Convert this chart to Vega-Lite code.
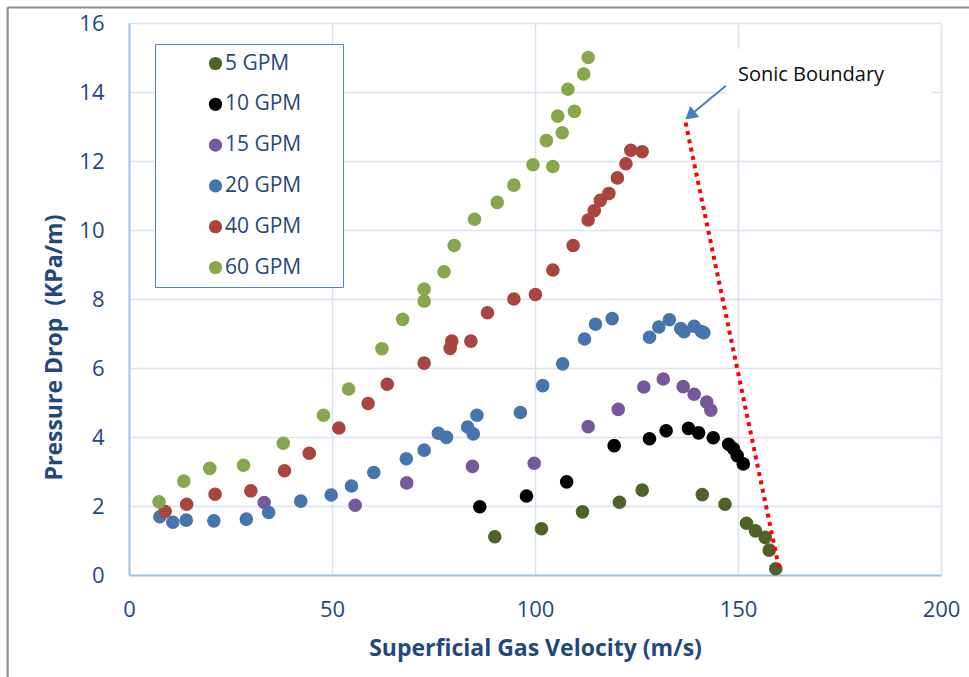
{
  "$schema": "https://vega.github.io/schema/vega-lite/v6.json",
  "width": 812,
  "height": 552,
  "autosize": {"type": "none"},
  "padding": {"left": 129, "top": 23, "right": 28, "bottom": 102},
  "background": "white",
  "datasets": {
    "points": [
      {"series": "5 GPM", "x": 90.1, "y": 1.11},
      {"series": "5 GPM", "x": 101.6, "y": 1.34},
      {"series": "5 GPM", "x": 111.7, "y": 1.83},
      {"series": "5 GPM", "x": 120.8, "y": 2.11},
      {"series": "5 GPM", "x": 126.4, "y": 2.46},
      {"series": "5 GPM", "x": 141.2, "y": 2.33},
      {"series": "5 GPM", "x": 146.8, "y": 2.05},
      {"series": "5 GPM", "x": 152.1, "y": 1.5},
      {"series": "5 GPM", "x": 154.3, "y": 1.28},
      {"series": "5 GPM", "x": 156.7, "y": 1.09},
      {"series": "5 GPM", "x": 157.7, "y": 0.72},
      {"series": "5 GPM", "x": 159.3, "y": 0.18},
      {"series": "10 GPM", "x": 86.4, "y": 1.98},
      {"series": "10 GPM", "x": 97.9, "y": 2.29},
      {"series": "10 GPM", "x": 107.8, "y": 2.7},
      {"series": "10 GPM", "x": 119.5, "y": 3.75},
      {"series": "10 GPM", "x": 128.2, "y": 3.95},
      {"series": "10 GPM", "x": 132.3, "y": 4.18},
      {"series": "10 GPM", "x": 137.8, "y": 4.25},
      {"series": "10 GPM", "x": 140.3, "y": 4.12},
      {"series": "10 GPM", "x": 143.9, "y": 3.98},
      {"series": "10 GPM", "x": 147.7, "y": 3.79},
      {"series": "10 GPM", "x": 148.9, "y": 3.66},
      {"series": "10 GPM", "x": 149.8, "y": 3.46},
      {"series": "10 GPM", "x": 151.3, "y": 3.22},
      {"series": "15 GPM", "x": 33.3, "y": 2.1},
      {"series": "15 GPM", "x": 55.7, "y": 2.02},
      {"series": "15 GPM", "x": 68.4, "y": 2.67},
      {"series": "15 GPM", "x": 84.6, "y": 3.15},
      {"series": "15 GPM", "x": 99.8, "y": 3.24},
      {"series": "15 GPM", "x": 113.1, "y": 4.3},
      {"series": "15 GPM", "x": 120.5, "y": 4.8},
      {"series": "15 GPM", "x": 126.8, "y": 5.45},
      {"series": "15 GPM", "x": 131.6, "y": 5.68},
      {"series": "15 GPM", "x": 136.5, "y": 5.46},
      {"series": "15 GPM", "x": 139.2, "y": 5.24},
      {"series": "15 GPM", "x": 142.3, "y": 5.01},
      {"series": "15 GPM", "x": 143.3, "y": 4.78},
      {"series": "20 GPM", "x": 7.6, "y": 1.69},
      {"series": "20 GPM", "x": 10.8, "y": 1.53},
      {"series": "20 GPM", "x": 14.1, "y": 1.59},
      {"series": "20 GPM", "x": 20.9, "y": 1.57},
      {"series": "20 GPM", "x": 28.9, "y": 1.62},
      {"series": "20 GPM", "x": 34.4, "y": 1.81},
      {"series": "20 GPM", "x": 42.3, "y": 2.14},
      {"series": "20 GPM", "x": 49.8, "y": 2.32},
      {"series": "20 GPM", "x": 54.8, "y": 2.58},
      {"series": "20 GPM", "x": 60.3, "y": 2.97},
      {"series": "20 GPM", "x": 68.3, "y": 3.37},
      {"series": "20 GPM", "x": 72.7, "y": 3.62},
      {"series": "20 GPM", "x": 76.2, "y": 4.11},
      {"series": "20 GPM", "x": 78.2, "y": 3.99},
      {"series": "20 GPM", "x": 83.4, "y": 4.29},
      {"series": "20 GPM", "x": 84.8, "y": 4.09},
      {"series": "20 GPM", "x": 85.7, "y": 4.63},
      {"series": "20 GPM", "x": 96.4, "y": 4.71},
      {"series": "20 GPM", "x": 101.9, "y": 5.49},
      {"series": "20 GPM", "x": 106.8, "y": 6.12},
      {"series": "20 GPM", "x": 112.2, "y": 6.84},
      {"series": "20 GPM", "x": 114.9, "y": 7.27},
      {"series": "20 GPM", "x": 119.0, "y": 7.43},
      {"series": "20 GPM", "x": 128.2, "y": 6.89},
      {"series": "20 GPM", "x": 130.5, "y": 7.19},
      {"series": "20 GPM", "x": 133.1, "y": 7.4},
      {"series": "20 GPM", "x": 135.9, "y": 7.14},
      {"series": "20 GPM", "x": 136.7, "y": 7.05},
      {"series": "20 GPM", "x": 139.2, "y": 7.21},
      {"series": "20 GPM", "x": 141.0, "y": 7.06},
      {"series": "20 GPM", "x": 141.6, "y": 7.02},
      {"series": "40 GPM", "x": 8.9, "y": 1.84},
      {"series": "40 GPM", "x": 14.2, "y": 2.05},
      {"series": "40 GPM", "x": 21.2, "y": 2.34},
      {"series": "40 GPM", "x": 30.0, "y": 2.44},
      {"series": "40 GPM", "x": 38.3, "y": 3.02},
      {"series": "40 GPM", "x": 44.4, "y": 3.53},
      {"series": "40 GPM", "x": 51.7, "y": 4.26},
      {"series": "40 GPM", "x": 58.9, "y": 4.97},
      {"series": "40 GPM", "x": 63.6, "y": 5.53},
      {"series": "40 GPM", "x": 72.7, "y": 6.14},
      {"series": "40 GPM", "x": 79.1, "y": 6.57},
      {"series": "40 GPM", "x": 79.5, "y": 6.78},
      {"series": "40 GPM", "x": 84.2, "y": 6.78},
      {"series": "40 GPM", "x": 88.3, "y": 7.6},
      {"series": "40 GPM", "x": 94.8, "y": 8.0},
      {"series": "40 GPM", "x": 100.1, "y": 8.13},
      {"series": "40 GPM", "x": 104.4, "y": 8.84},
      {"series": "40 GPM", "x": 109.4, "y": 9.55},
      {"series": "40 GPM", "x": 113.1, "y": 10.29},
      {"series": "40 GPM", "x": 114.6, "y": 10.56},
      {"series": "40 GPM", "x": 116.1, "y": 10.86},
      {"series": "40 GPM", "x": 118.2, "y": 11.06},
      {"series": "40 GPM", "x": 120.3, "y": 11.51},
      {"series": "40 GPM", "x": 122.4, "y": 11.92},
      {"series": "40 GPM", "x": 123.6, "y": 12.31},
      {"series": "40 GPM", "x": 126.4, "y": 12.27},
      {"series": "60 GPM", "x": 7.4, "y": 2.12},
      {"series": "60 GPM", "x": 13.5, "y": 2.72},
      {"series": "60 GPM", "x": 19.9, "y": 3.09},
      {"series": "60 GPM", "x": 28.2, "y": 3.18},
      {"series": "60 GPM", "x": 38.0, "y": 3.82},
      {"series": "60 GPM", "x": 47.9, "y": 4.63},
      {"series": "60 GPM", "x": 54.1, "y": 5.39},
      {"series": "60 GPM", "x": 62.3, "y": 6.56},
      {"series": "60 GPM", "x": 67.4, "y": 7.41},
      {"series": "60 GPM", "x": 72.7, "y": 7.94},
      {"series": "60 GPM", "x": 72.7, "y": 8.29},
      {"series": "60 GPM", "x": 77.6, "y": 8.79},
      {"series": "60 GPM", "x": 80.1, "y": 9.55},
      {"series": "60 GPM", "x": 85.1, "y": 10.31},
      {"series": "60 GPM", "x": 90.7, "y": 10.8},
      {"series": "60 GPM", "x": 94.8, "y": 11.3},
      {"series": "60 GPM", "x": 99.5, "y": 11.89},
      {"series": "60 GPM", "x": 104.4, "y": 11.84},
      {"series": "60 GPM", "x": 102.8, "y": 12.59},
      {"series": "60 GPM", "x": 106.7, "y": 12.82},
      {"series": "60 GPM", "x": 105.6, "y": 13.3},
      {"series": "60 GPM", "x": 109.7, "y": 13.44},
      {"series": "60 GPM", "x": 108.1, "y": 14.08},
      {"series": "60 GPM", "x": 112.0, "y": 14.52},
      {"series": "60 GPM", "x": 113.1, "y": 15.0}
    ],
    "frame": [
      {"x": -29.9, "y": 16.45, "x2": -29.9, "y2": -3.3},
      {"x": -29.9, "y": 16.45, "x2": 210, "y2": 16.45}
    ],
    "box": [{"x": 147.3, "x2": 197.8, "y": 13.5, "y2": 15.25}],
    "boundary": [{"x": 137.1, "y": 13.11, "x2": 160.2, "y2": 0.15}],
    "arrow": [{"x": 147.0, "y": 14.18, "x2": 138.4, "y2": 13.34}],
    "head": [{"x": 138.2, "y": 13.32}],
    "note": [{"x": 150.0, "y": 14.32, "label": "Sonic Boundary"}]
  },
  "layer": [
    {
      "data": {"name": "frame"},
      "mark": {"type": "rule", "color": "#8c8c8c", "strokeWidth": 2.2},
      "encoding": {
        "x": {"field": "x", "type": "quantitative", "scale": {"domain": [0, 200], "nice": false, "zero": false}, "title": "Superficial Gas Velocity (m/s)"},
        "y": {"field": "y", "type": "quantitative", "scale": {"domain": [0, 16], "nice": false}, "title": "Pressure Drop\u00a0 (KPa/m)"},
        "x2": {"field": "x2"},
        "y2": {"field": "y2"}
      }
    },
    {
      "data": {"name": "box"},
      "mark": {"type": "rect", "color": "white"},
      "encoding": {
        "x": {"field": "x", "type": "quantitative", "scale": {"domain": [0, 200], "nice": false, "zero": false}, "title": "Superficial Gas Velocity (m/s)"},
        "y": {"field": "y", "type": "quantitative", "scale": {"domain": [0, 16], "nice": false}, "title": "Pressure Drop\u00a0 (KPa/m)"},
        "x2": {"field": "x2"},
        "y2": {"field": "y2"}
      }
    },
    {
      "data": {"name": "points"},
      "mark": {"type": "point", "filled": true, "shape": "circle", "size": 185, "opacity": 1, "strokeWidth": 0},
      "encoding": {
        "x": {"field": "x", "type": "quantitative", "scale": {"domain": [0, 200], "nice": false, "zero": false}, "axis": {"values": [0, 50, 100, 150, 200]}, "title": "Superficial Gas Velocity (m/s)"},
        "y": {"field": "y", "type": "quantitative", "scale": {"domain": [0, 16], "nice": false}, "axis": {"values": [0, 2, 4, 6, 8, 10, 12, 14, 16]}, "title": "Pressure Drop\u00a0 (KPa/m)"},
        "color": {
          "field": "series",
          "type": "nominal",
          "scale": {
            "domain": ["5 GPM", "10 GPM", "15 GPM", "20 GPM", "40 GPM", "60 GPM"],
            "range": ["#4f6228", "#000000", "#77599b", "#4675ab", "#a9443f", "#88a64b"]
          },
          "legend": {
            "orient": "none",
            "legendX": 26,
            "legendY": 21,
            "title": ".",
            "titleOrient": "right",
            "titleColor": "white",
            "titleFontSize": 10,
            "titlePadding": 30,
            "padding": 9,
            "strokeColor": "#4f81bd",
            "fillColor": "white",
            "symbolType": "circle",
            "symbolSize": 175,
            "symbolStrokeWidth": 0,
            "symbolOpacity": 1,
            "symbolOffset": 41,
            "labelOffset": -1,
            "labelFont": "Open Sans",
            "labelFontSize": 21,
            "labelColor": "#1f497d",
            "rowPadding": 18.8,
            "encoding": {"legend": {"update": {"strokeWidth": {"value": 2}}}}
          }
        }
      }
    },
    {
      "data": {"name": "boundary"},
      "mark": {"type": "rule", "color": "#ff0000", "strokeWidth": 4, "strokeDash": [4, 4.5], "strokeCap": "butt"},
      "encoding": {
        "x": {"field": "x", "type": "quantitative", "scale": {"domain": [0, 200], "nice": false, "zero": false}, "title": "Superficial Gas Velocity (m/s)"},
        "y": {"field": "y", "type": "quantitative", "scale": {"domain": [0, 16], "nice": false}, "title": "Pressure Drop\u00a0 (KPa/m)"},
        "x2": {"field": "x2"},
        "y2": {"field": "y2"}
      }
    },
    {
      "data": {"name": "arrow"},
      "mark": {"type": "rule", "color": "#4a7ebb", "strokeWidth": 2},
      "encoding": {
        "x": {"field": "x", "type": "quantitative", "scale": {"domain": [0, 200], "nice": false, "zero": false}, "title": "Superficial Gas Velocity (m/s)"},
        "y": {"field": "y", "type": "quantitative", "scale": {"domain": [0, 16], "nice": false}, "title": "Pressure Drop\u00a0 (KPa/m)"},
        "x2": {"field": "x2"},
        "y2": {"field": "y2"}
      }
    },
    {
      "data": {"name": "head"},
      "mark": {"type": "point", "shape": "triangle-up", "filled": true, "size": 200, "angle": 230, "color": "#4a7ebb", "opacity": 1, "strokeWidth": 0},
      "encoding": {
        "x": {"field": "x", "type": "quantitative", "scale": {"domain": [0, 200], "nice": false, "zero": false}, "title": "Superficial Gas Velocity (m/s)"},
        "y": {"field": "y", "type": "quantitative", "scale": {"domain": [0, 16], "nice": false}, "title": "Pressure Drop\u00a0 (KPa/m)"}
      }
    },
    {
      "data": {"name": "note"},
      "mark": {"type": "text", "align": "left", "baseline": "alphabetic", "font": "Open Sans", "fontSize": 20, "color": "#0d0d0d"},
      "encoding": {
        "x": {"field": "x", "type": "quantitative", "scale": {"domain": [0, 200], "nice": false, "zero": false}, "title": "Superficial Gas Velocity (m/s)"},
        "y": {"field": "y", "type": "quantitative", "scale": {"domain": [0, 16], "nice": false}, "title": "Pressure Drop\u00a0 (KPa/m)"},
        "text": {"field": "label"}
      }
    }
  ],
  "config": {
    "view": {"stroke": null},
    "axis": {
      "grid": true,
      "gridColor": "#d9e4f3",
      "gridWidth": 1.5,
      "domainColor": "#a3bfe3",
      "domainWidth": 2,
      "ticks": false,
      "tickSize": 0,
      "labelFlush": false,
      "labelOverlap": false,
      "labelFont": "Open Sans",
      "labelFontSize": 22,
      "labelColor": "#1f497d",
      "titleFont": "Open Sans",
      "titleFontSize": 23,
      "titleFontWeight": "bold",
      "titleColor": "#1f497d"
    },
    "axisX": {"labelPadding": 24, "titleY": 80, "titleBaseline": "alphabetic"},
    "axisY": {"labelPadding": 25, "titleX": -68, "titleY": 324, "titleBaseline": "alphabetic", "titleAngle": -90, "titleAlign": "center"}
  }
}
